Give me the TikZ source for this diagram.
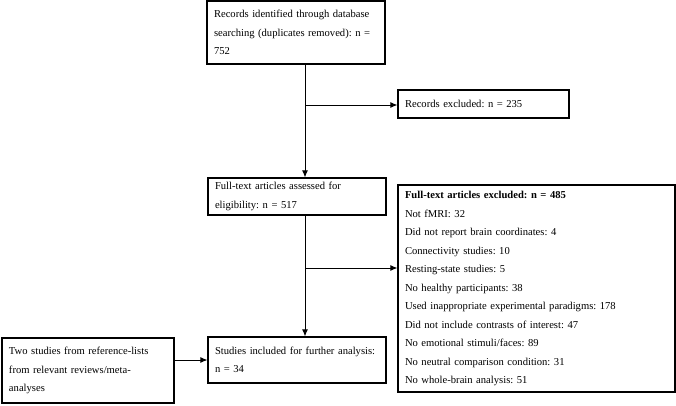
\documentclass[tikz,border=0pt]{standalone}
\usepackage{fontspec}
\setmainfont{Liberation Serif}
\usetikzlibrary{calc,arrows.meta}
\frenchspacing
\tikzset{
    box/.style={draw, line width=1.1pt, align=left, inner xsep=7pt, inner ysep=0pt,
        font=\fontsize{10.6}{18.5}\selectfont},
    link/.style={line width=1pt, -{Latex[length=7pt,width=6pt]}}
}

\begin{document}
\begin{tikzpicture}[x=1pt,y=-1pt]
\useasboundingbox (0,0) rectangle (676,405);
\node[box, text width=164pt, minimum height=63pt] (ID) at (296,32.5) {Records identified through database\\searching (duplicates removed): n =\\752}; % identified
\node[box, text width=157pt, minimum height=28pt] (EX) at (483.5,104) {Records excluded: n = 235}; % records out
\node[box, text width=164pt, minimum height=37pt] (FT) at (297,196.5) {Full-text articles assessed for\\eligibility: n = 517}; % full text
\node[box, text width=263pt, minimum height=207pt] (FX) at (536.5,288.5) {\textbf{Full-text articles excluded: n = 485}\\
Not fMRI: 32\\
Did not report brain coordinates: 4\\
Connectivity studies: 10\\
Resting-state studies: 5\\
No healthy participants: 38\\
Used inappropriate experimental paradigms: 178\\
Did not include contrasts of interest: 47\\
No emotional stimuli/faces: 89\\
No neutral comparison condition: 31\\
No whole-brain analysis: 51}; % full text out
\node[box, text width=164pt, minimum height=46pt] (IN) at (297,360) {Studies included for further analysis:\\n = 34}; % included
\node[box, text width=158pt, minimum height=65pt] (OT) at (88,370.5) {Two studies from reference-lists\\from relevant reviews/meta-\\analyses}; % other sources

\coordinate (V) at (305,0); % trunk x
\coordinate (B1) at (305,105); % branch to records out
\coordinate (B2) at (305,268); % branch to full text out

%%% TRUNK %%%
\draw[link] (ID.south -| V) -- (FT.north -| V);
\draw[link] (FT.south -| V) -- (IN.north -| V);

%%% BRANCHES %%%
\draw[link] (B1) -- (B1 -| EX.west);
\draw[link] (B2) -- (B2 -| FX.west);
\draw[link] (OT.east |- IN.west) -- (IN.west);
\end{tikzpicture}
\end{document}
